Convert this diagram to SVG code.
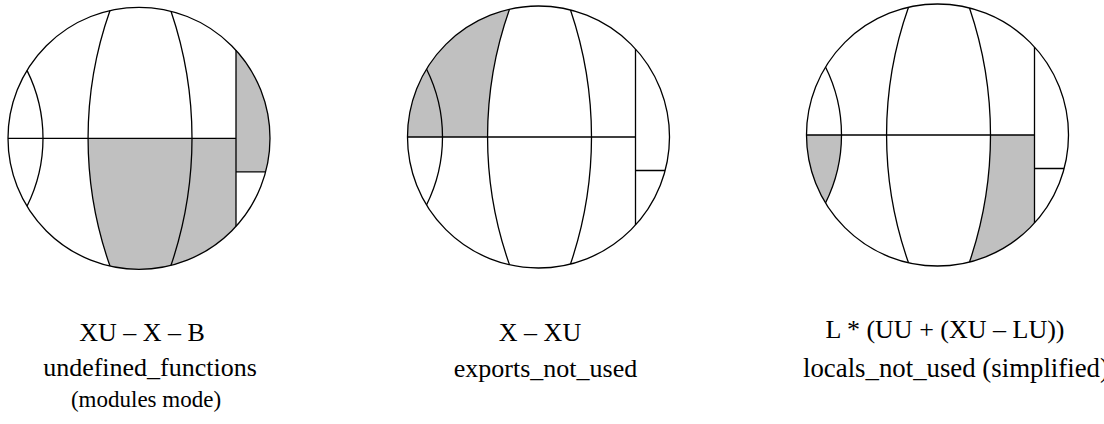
<svg xmlns="http://www.w3.org/2000/svg" xmlns:xlink="http://www.w3.org/1999/xlink" width="1104" height="424" viewBox="0 0 1104 424">
<style>
.ln{fill:none;stroke:#000;stroke-width:1.3}
.sh{fill:#c0c0c0;stroke:none}
.t{font-family:"Liberation Serif","Times New Roman",serif;font-size:26px;fill:#000;text-anchor:middle}
.s{font-size:23px}
</style>
<defs>
<g id="base">
<circle class="ln" cx="0" cy="0" r="131"/>
<path class="ln" d="M -131,0 H 97 M 97,-88 V 88 M 97,33.5 H 126.64 M -29,-127.75 A 383 383 0 0 0 -29,127.75 M 32,-127.03 A 394.7 394.7 0 0 1 32,127.03 M -112,-67.95 A 152.3 152.3 0 0 1 -112,67.95"/>
</g>
</defs>
<rect width="1104" height="424" fill="#fff"/>
<g id="diagram1" transform="translate(139,138.3)">
<path class="sh" d="M -50.9,0 H 97 V 88 A 131 131 0 0 1 -29,127.75 A 383 383 0 0 1 -50.9,0 Z"/>
<path class="sh" d="M 97,-88 A 131 131 0 0 1 126.64,33.5 H 97 Z"/>
<use xlink:href="#base" href="#base"/>
</g>
<g id="diagram2" transform="translate(538.5,137)">
<path class="sh" d="M -131,0 H -50.9 A 383 383 0 0 1 -29,-127.75 A 131 131 0 0 0 -131,0 Z"/>
<use xlink:href="#base" href="#base"/>
</g>
<g id="diagram3" transform="translate(937.5,135)">
<path class="sh" d="M -131,0 H -96 A 152.3 152.3 0 0 1 -112,67.95 A 131 131 0 0 1 -131,0 Z"/>
<path class="sh" d="M 53,0 H 97 V 88 A 131 131 0 0 1 32,127.03 A 394.7 394.7 0 0 0 53,0 Z"/>
<use xlink:href="#base" href="#base"/>
</g>
<g id="labels1">
<text class="t" x="142" y="341">XU – X – B</text>
<text class="t" x="150" y="376">undefined_functions</text>
<text class="t s" x="146" y="407">(modules mode)</text>
</g>
<g id="labels2">
<text class="t" x="540" y="341">X – XU</text>
<text class="t" x="545.5" y="377">exports_not_used</text>
</g>
<g id="labels3">
<text class="t" x="945" y="338">L * (UU + (XU – LU))</text>
<text class="t" x="803" y="377" style="text-anchor:start;font-size:26.8px">locals_not_used (simplified)</text>
</g>
</svg>
